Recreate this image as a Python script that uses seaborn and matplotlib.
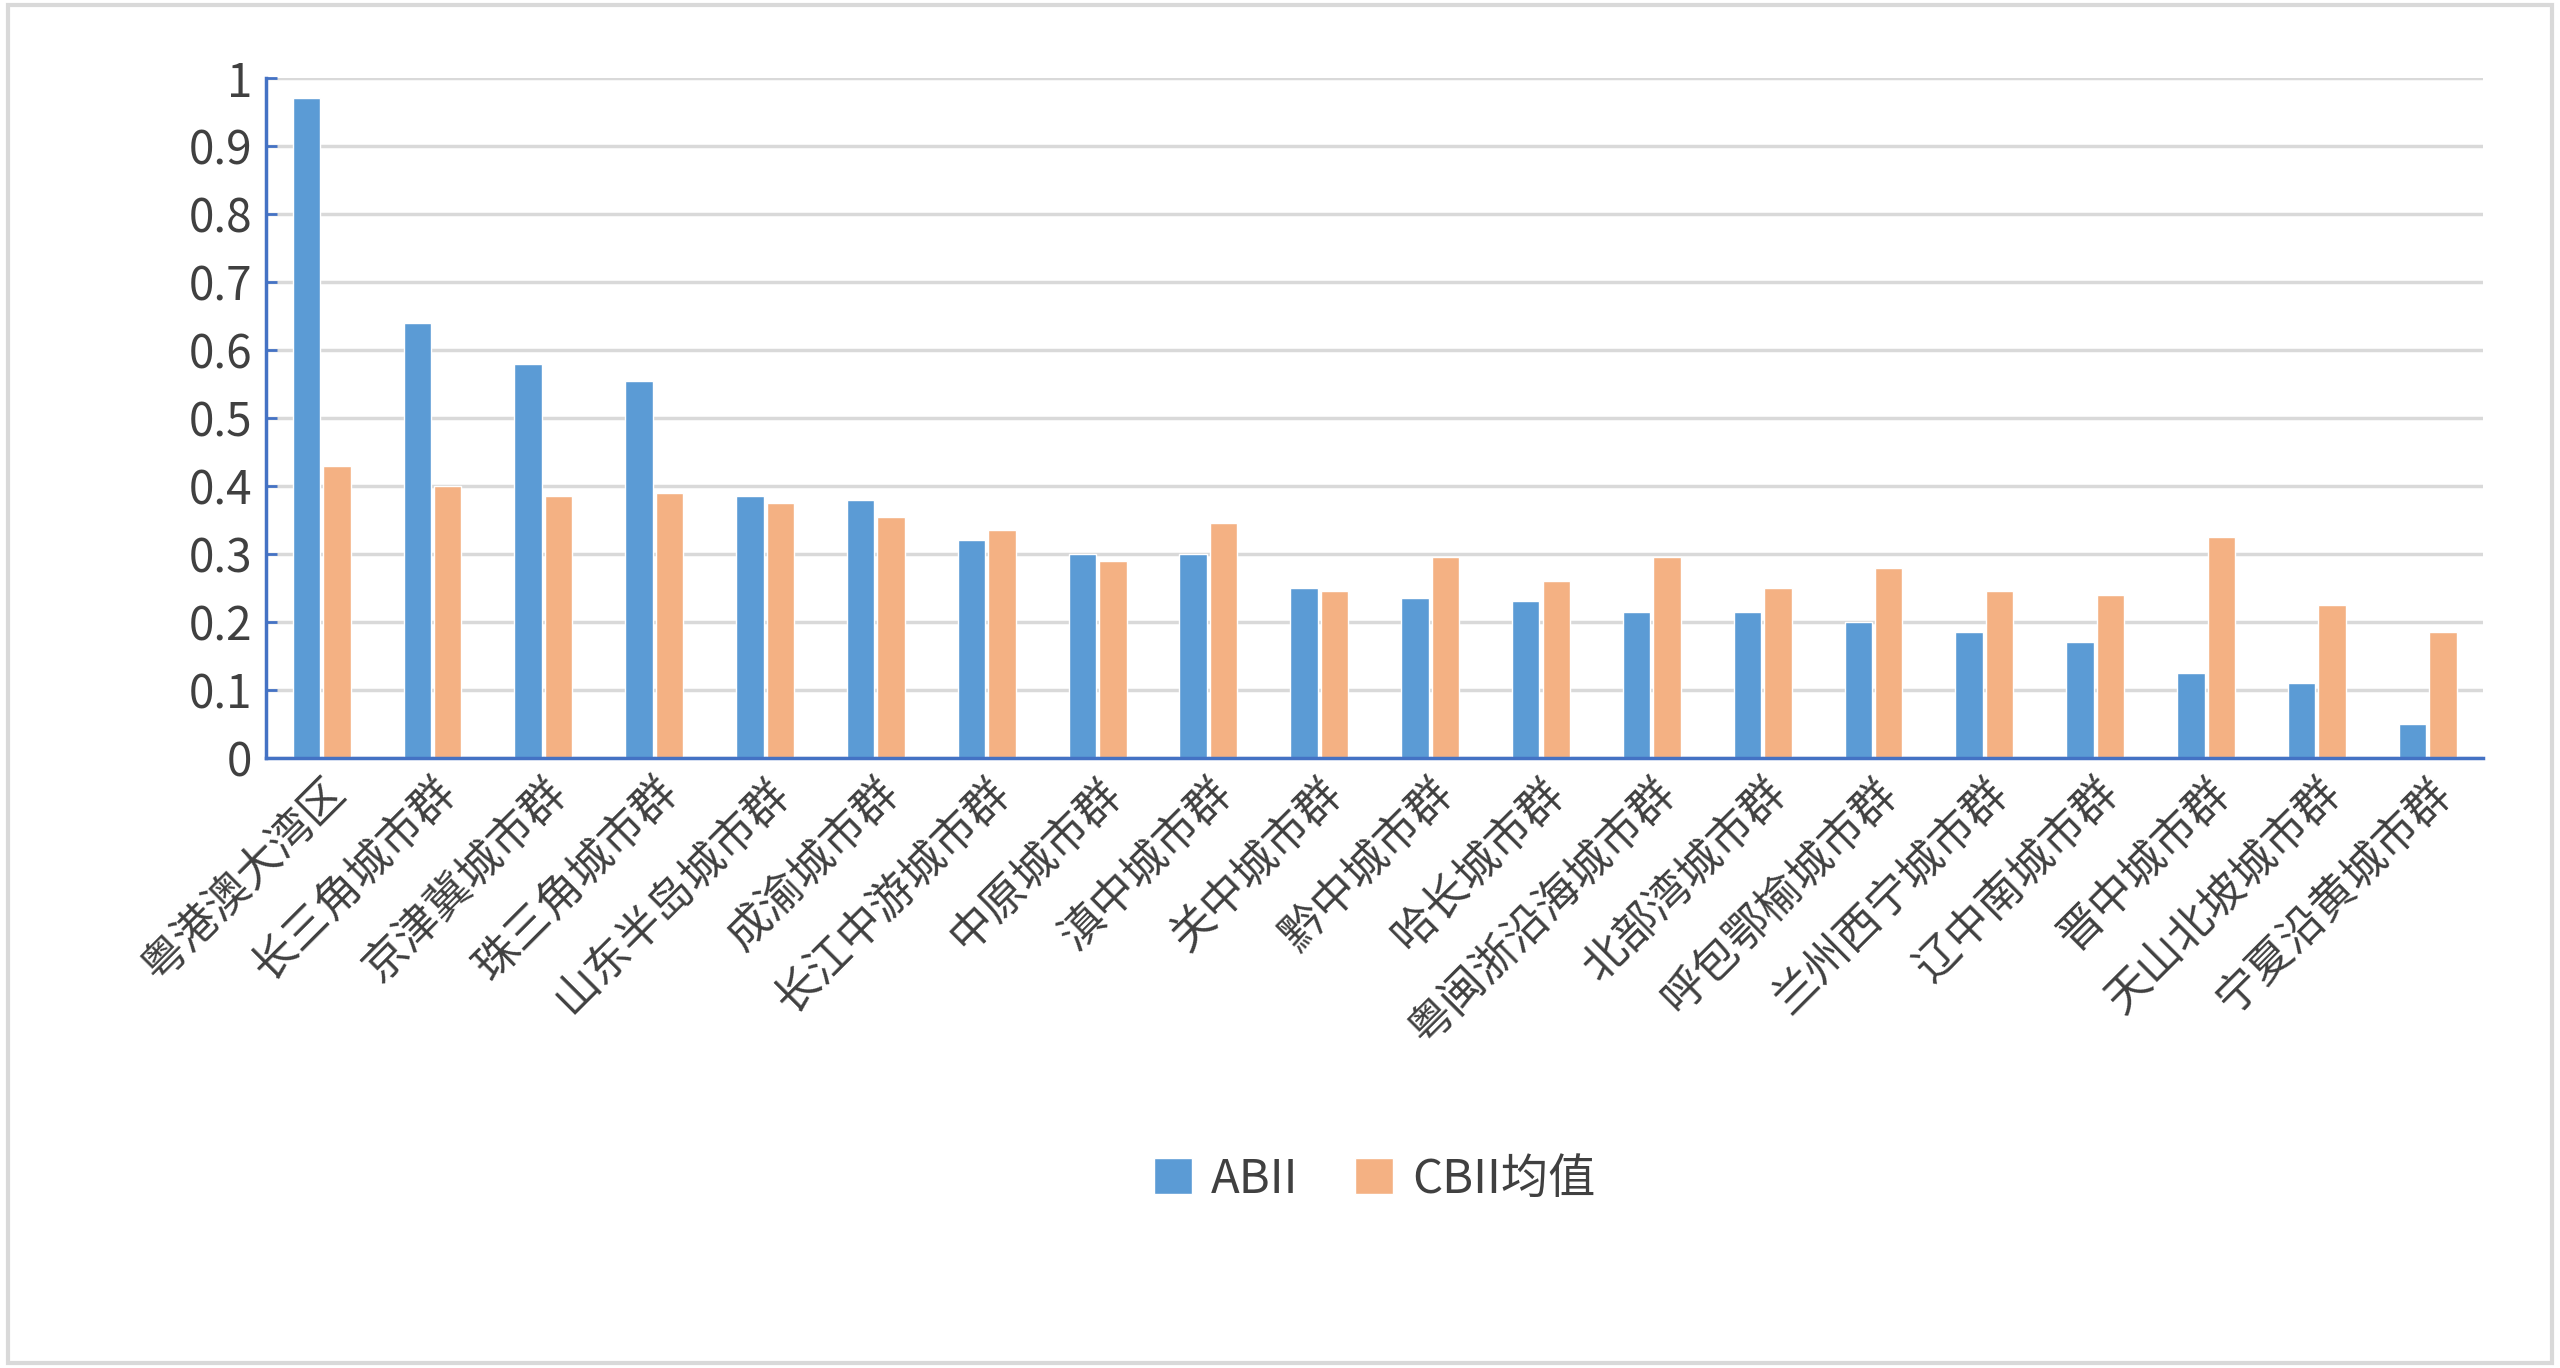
import matplotlib
matplotlib.use("Agg")
import matplotlib.pyplot as plt
import seaborn as sns
import pandas as pd
from matplotlib.patches import Rectangle

categories = ["粤港澳大湾区","长三角城市群","京津冀城市群","珠三角城市群","山东半岛城市群","成渝城市群",
              "长江中游城市群","中原城市群","滇中城市群","关中城市群","黔中城市群","哈长城市群",
              "粤闽浙沿海城市群","北部湾城市群","呼包鄂榆城市群","兰州西宁城市群","辽中南城市群",
              "晋中城市群","天山北坡城市群","宁夏沿黄城市群"]
abii = [0.97,0.64,0.58,0.555,0.385,0.38,0.32,0.30,0.30,0.25,0.235,0.23,0.215,0.215,0.20,0.185,0.17,0.125,0.11,0.05]
cbii = [0.43,0.40,0.385,0.39,0.375,0.355,0.335,0.29,0.345,0.245,0.295,0.26,0.295,0.25,0.28,0.245,0.24,0.325,0.225,0.185]
series = ["ABII","CBII均值"]

sns.set_theme(style="white")
plt.rcParams['font.family'] = ['Noto Sans CJK SC', 'DejaVu Sans']

df = pd.DataFrame({"cat": categories*2, "val": abii+cbii,
                   "s": [series[0]]*len(categories)+[series[1]]*len(categories)})

fig = plt.figure(figsize=(25.6,13.68), dpi=100)
fig.patches.append(Rectangle((0.003,0.004),0.994,0.992, transform=fig.transFigure,
                             fill=False, edgecolor="#d9d9d9", linewidth=3))
ax = fig.add_axes([0.104,0.446,0.866,0.497])
sns.barplot(data=df, x="cat", y="val", hue="s", palette=["#5B9BD5","#F4B183"],
            saturation=1, width=0.55, gap=0.1, ax=ax, legend=True)
ax.set_ylim(0,1)
ax.set_yticks([i/10 for i in range(11)])
ax.set_yticklabels(["0"]+[f"0.{i}" for i in range(1,10)]+["1"], fontsize=33, color="#404040")
ax.yaxis.grid(True, color="#d9d9d9", linewidth=2.5)
ax.set_axisbelow(True)
ax.set_xlim(-0.5, len(categories)-0.5)
ax.set_xticks(range(len(categories)))
ax.set_xticklabels(categories, rotation=45, ha="right", rotation_mode="anchor",
                   fontsize=32, color="#404040")
ax.set_xlabel(""); ax.set_ylabel("")
for s in ["top","right"]:
    ax.spines[s].set_visible(False)
for s in ["left","bottom"]:
    ax.spines[s].set_color("#4472C4"); ax.spines[s].set_linewidth(2.5)
ax.tick_params(axis="y", length=8, width=2, color="#4472C4", direction="in", left=True, pad=10)
ax.tick_params(axis="x", length=0, pad=8)
ax.legend(loc="center", bbox_to_anchor=(0.5, -0.62), ncol=2, frameon=False,
          fontsize=34, handlelength=0.8, handleheight=0.8, handletextpad=0.4,
          columnspacing=1.2, labelcolor="#404040")
fig.savefig("out.png", dpi=100)
